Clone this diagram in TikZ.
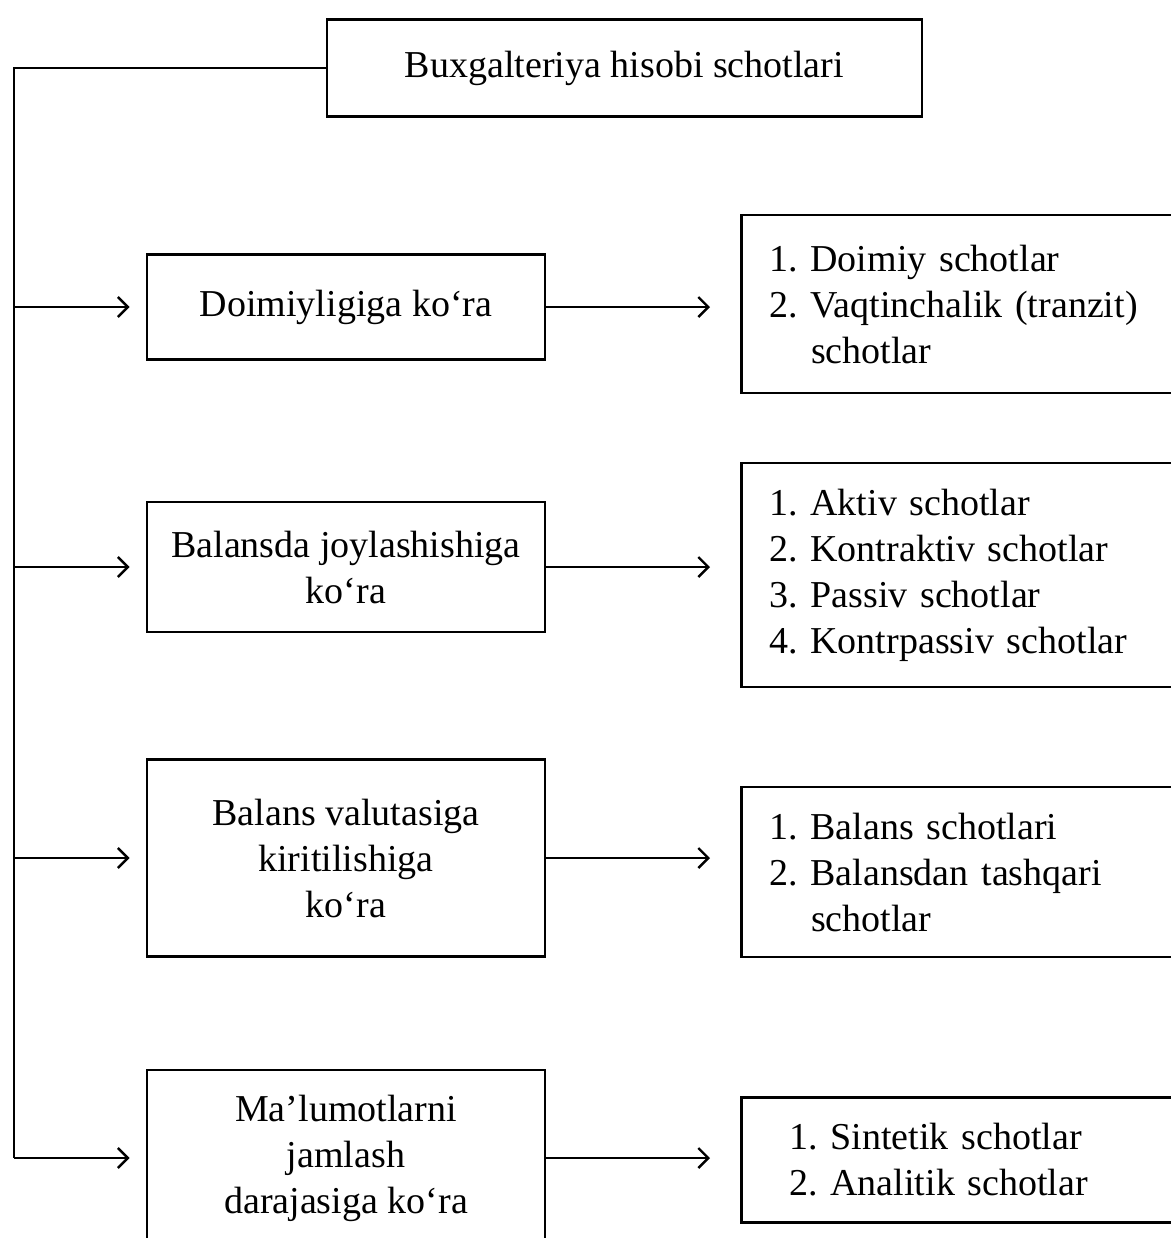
\documentclass[tikz,border=0pt]{standalone}
\usepackage{fontspec}
\setmainfont{Liberation Serif}
\usetikzlibrary{arrows.meta}

\tikzset{
    box/.style={draw, line width=1.4pt, align=center, inner sep=0pt,
        font=\fontsize{19}{23}\selectfont\frenchspacing},
    leftbox/.style={box, minimum width=199pt},
    rightbox/.style={box, anchor=west, align=left, text width=197pt,
        inner xsep=14pt},
    arr/.style={line width=1.2pt, -{Straight Barb[length=5pt,width=10pt]}},
    line/.style={line width=1.3pt}
}

\begin{document}
\begin{tikzpicture}[x=0.5pt,y=-0.5pt]
        \useasboundingbox (0,0) rectangle (1171,1238);
        \clip (0,0) rectangle (1171,1238);
        \node[box, minimum width=297.5pt, minimum height=48.5pt] (top) at (624.5,68) {Buxgalteriya hisobi schotlari};
        \node[leftbox, minimum height=52.5pt] (d1) at (346,307) {Doimiyligiga ko‘ra};
        \node[leftbox, minimum height=65pt] (d2) at (346,567) {Balansda joylashishiga\\ko‘ra};
        \node[leftbox, minimum height=98.5pt] (d3) at (346,858) {Balans valutasiga\\kiritilishiga\\ko‘ra};
        \node[leftbox, minimum height=88pt] (d4) at (346,1158) {Ma’lumotlarni\\jamlash\\darajasiga ko‘ra};
        \node[rightbox, minimum height=89pt] (r1) at (740,304) {1. Doimiy schotlar\\2. Vaqtinchalik (tranzit)\\\hspace*{1.1em}schotlar};
        \node[rightbox, minimum height=112pt] (r2) at (740,575) {1. Aktiv schotlar\\2. Kontraktiv schotlar\\3. Passiv schotlar\\4. Kontrpassiv schotlar};
        \node[rightbox, minimum height=85pt] (r3) at (740,872) {1. Balans schotlari\\2. Balansdan tashqari\\\hspace*{1.1em}schotlar};
        \node[rightbox, minimum height=62.5pt, inner xsep=24pt, text width=187pt] (r4) at (740,1160) {1. Sintetik schotlar\\2. Analitik schotlar};
        \coordinate (spine) at (14,1158);
        \draw[line] (top.west) -| (spine);
        \foreach \i in {1,...,4}
            \draw[arr, shorten >=8pt] (spine |- d\i) -- (d\i);
        \foreach \i in {1,...,4}
            \draw[arr, shorten >=15pt] (d\i.east) -- (d\i.east -| r\i.west);
    \end{tikzpicture}
\end{document}
